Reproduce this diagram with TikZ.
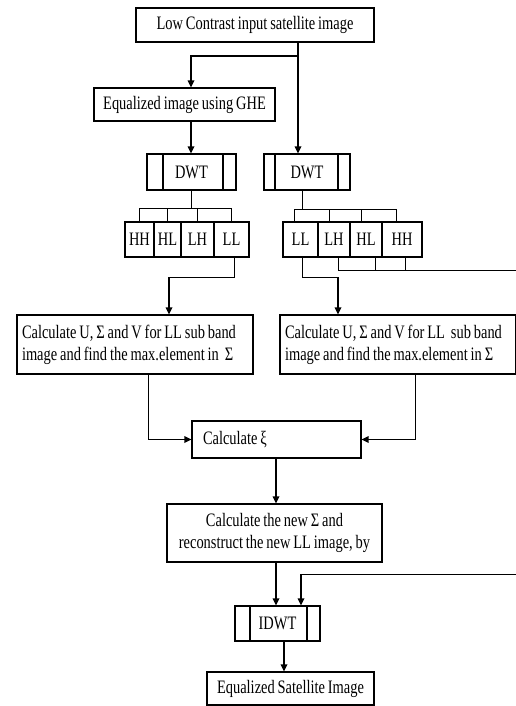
\documentclass[tikz,border=0pt]{standalone}
\usepackage{fontspec}
\setmainfont{Liberation Serif}[FakeStretch=0.76,WordSpace=0.8]
\usetikzlibrary{arrows.meta}
\begin{document}
\begin{tikzpicture}[x=1pt,y=-1pt,
  box/.style={draw, line width=1.1pt, rectangle, inner sep=0pt, anchor=center,
    font=\fontsize{19}{22}\selectfont},
  cell/.style={box, minimum width=#1, minimum height=35pt},
  calc/.style={box, minimum width=236pt, minimum height=59pt, text width=226pt, align=left},
  arr/.style={line width=1.6pt, -{Triangle[length=7pt,width=6.5pt]}},
  ln/.style={line width=1pt},
]
\useasboundingbox (0,0) rectangle (516,706);

% boxes
\node[box, minimum width=238pt, minimum height=34pt] (top) at (255,25) {Low Contrast input satellite image};
\node[box, minimum width=181pt, minimum height=33pt] (eq) at (184.5,104.5) {Equalized image using GHE};
\node[box, minimum width=89pt, minimum height=36pt] (dwtL) at (191.5,172) {DWT};
\node[box, minimum width=86pt, minimum height=36pt] (dwtR) at (307,172) {DWT};
\draw[line width=1.1pt] ([xshift=-28.5pt]dwtL.north) -- ([xshift=-28.5pt]dwtL.south);
\draw[line width=1.1pt] ([xshift=31.5pt]dwtL.north) -- ([xshift=31.5pt]dwtL.south);
\draw[line width=1.1pt] ([xshift=-32pt]dwtR.north) -- ([xshift=-32pt]dwtR.south);
\draw[line width=1.1pt] ([xshift=31pt]dwtR.north) -- ([xshift=31pt]dwtR.south);

% sub-band cells, left
\node[cell=29pt] (hhL) at (139.5,239.5) {HH};
\node[cell=27pt] (hlL) at (167.5,239.5) {HL};
\node[cell=33pt] (lhL) at (197.5,239.5) {LH};
\node[cell=35pt] (llL) at (231.5,239.5) {LL};
% sub-band cells, right
\node[cell=35pt] (llR) at (300.5,239.5) {LL};
\node[cell=32pt] (lhR) at (334,239.5) {LH};
\node[cell=32pt] (hlR) at (366,239.5) {HL};
\node[cell=40pt] (hhR) at (402,239.5) {HH};

\node[calc] (calcL) at (135,344.5)
  {\spaceskip=0pt\xspaceskip=0pt Calculate U, Σ and V for LL sub band\\image and find the max.element in\hspace{3pt} Σ};
\node[calc] (calcR) at (398,344.5)
  {\spaceskip=0pt\xspaceskip=0pt Calculate U, Σ and V for LL\hspace{3pt} sub band\\image and find the max.element in Σ};
\node[box, minimum width=169pt, minimum height=37pt, text width=147pt, align=left] (xi) at (276.5,439.5) {\spaceskip=0pt Calculate ξ};
\node[box, minimum width=215pt, minimum height=58pt, align=center] (newS) at (274.5,533)
  {Calculate the new Σ and\\reconstruct the new LL image, by};
\node[box, minimum width=85pt, minimum height=35pt] (idwt) at (277.5,623.5) {IDWT};
\draw[line width=1.1pt] ([xshift=-27.5pt]idwt.north) -- ([xshift=-27.5pt]idwt.south);
\draw[line width=1.1pt] ([xshift=29.5pt]idwt.north) -- ([xshift=29.5pt]idwt.south);
\node[box, minimum width=167pt, minimum height=33pt] (final) at (290.5,688.5) {Equalized Satellite Image};

% coordinates
\coordinate (tA) at ([xshift=43pt]top.south);
\coordinate (j1) at (191,56);
\coordinate (eA) at ([xshift=6.5pt]eq.south);
\coordinate (bL) at (191.5,208);
\coordinate (bR) at (302,209);
\coordinate (kL) at (169,277);
\coordinate (kR) at (338,277);
\coordinate (eR1) at (516,270);
\coordinate (mL) at (148,439.5);
\coordinate (mR) at (415,439.5);
\coordinate (nA) at (276,0);
\coordinate (eR2) at (516,574);
\coordinate (r2) at (301,574);
\coordinate (fA) at (284,0);

% connectors
\draw[arr] (tA) |- (j1) -- (j1 |- eq.north);
\draw[arr] (tA) -- (tA |- dwtR.north);
\draw[arr] (eA) -- (eA |- dwtL.north);

\draw[ln] (dwtL.south) -- (bL);
\draw[ln] (hhL.north) |- (llL.north |- bL) -- (llL.north);
\draw[ln] (hlL.north) -- (hlL.north |- bL);
\draw[ln] (lhL.north) -- (lhL.north |- bL);

\draw[ln] (bR |- dwtR.south) -- (bR);
\draw[ln] ([xshift=-6pt]llR.north) |- ([xshift=-6pt]hhR.north |- bR) -- ([xshift=-6pt]hhR.north);
\draw[ln] ([xshift=-5pt]lhR.north) -- ([xshift=-5pt]lhR.north |- bR);
\draw[ln] ([xshift=-5pt]hlR.north) -- ([xshift=-5pt]hlR.north |- bR);

\draw[ln] ([xshift=4pt]lhR.south) |- (eR1);
\draw[ln] ([xshift=9pt]hlR.south) -- ([xshift=9pt]hlR.south |- eR1);
\draw[ln] ([xshift=3pt]hhR.south) -- ([xshift=3pt]hhR.south |- eR1);

\draw[ln] ([xshift=3pt]llL.south) |- (kL);
\draw[arr] (kL) -- (kL |- calcL.north);
\draw[ln] ([xshift=1.5pt]llR.south) |- (kR);
\draw[arr] (kR) -- (kR |- calcR.north);

\draw[ln] (mL |- calcL.south) -- (mL);
\draw[arr] (mL) -- (xi.west);
\draw[ln] (mR |- calcR.south) -- (mR);
\draw[arr] (mR) -- (xi.east);

\draw[arr] (nA |- xi.south) -- (nA |- newS.north);
\draw[arr] (nA |- newS.south) -- (nA |- idwt.north);
\draw[ln] (eR2) -- (r2);
\draw[arr] (r2) -- (r2 |- idwt.north);
\draw[arr] (fA |- idwt.south) -- (fA |- final.north);
\end{tikzpicture}
\end{document}
